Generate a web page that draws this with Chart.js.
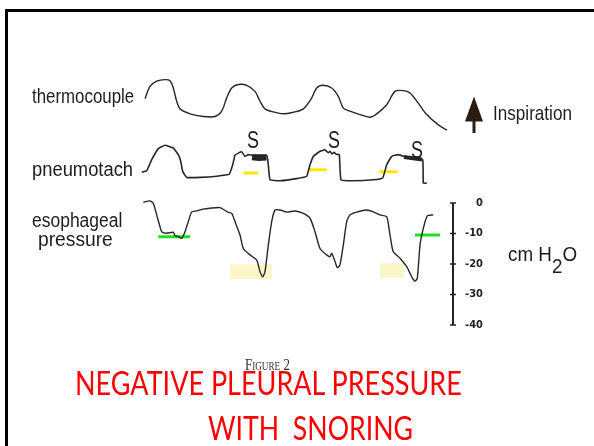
<!DOCTYPE html>
<html>
<head>
<meta charset="utf-8">
<title>Negative pleural pressure with snoring</title>
<script src="https://cdn.jsdelivr.net/npm/chart.js@4.4.0/dist/chart.umd.min.js"></script>
<style>
  html, body { margin: 0; padding: 0; background: #fff; }
  #wrap { position: relative; width: 594px; height: 446px; overflow: hidden; background: #fff; }
  #chart { position: absolute; left: 0; top: 0; }
  .frame { position: absolute; left: 5px; top: 9px; width: 700px; height: 600px;
           border-left: 3px solid #000; border-top: 3px solid #000; box-sizing: border-box; }
  .lbl { position: absolute; white-space: pre; line-height: 1; transform-origin: 0 0;
         color: #1c1c1c; font-family: 'Liberation Sans', Arial, sans-serif; font-size: 20px; }
  .lbl .sub { position: relative; top: 12px; }
  .cap { color: #ff0000; font-family: Lato, 'Open Sans', sans-serif; font-size: 32px; }
  .fig { color: #333; font-family: 'Liberation Serif', 'DejaVu Serif', serif; font-size: 17px; font-variant: small-caps; }
</style>
</head>
<body>
<div id="wrap">
  <canvas id="chart" width="594" height="446"></canvas>
  <div class="frame"></div>

  <div class="lbl" data-x="32" data-base="103" data-w="102">thermocouple</div>
  <div class="lbl" data-x="32" data-base="176" data-w="101">pneumotach</div>
  <div class="lbl" data-x="32" data-base="226.5" data-w="90">esophageal</div>
  <div class="lbl" data-x="38" data-base="245.5" data-w="75">pressure</div>
  <div class="lbl" data-x="493" data-base="120" data-w="79" style="font-size:21px">Inspiration</div>
  <div class="lbl" data-x="508" data-base="260.5" data-w="69" style="font-size:21px">cm H<span class="sub">2</span>O</div>
  <div class="lbl fig" data-x="245" data-base="370" data-w="45">Figure 2</div>
  <div class="lbl cap" data-x="75" data-base="395" data-w="387">NEGATIVE PLEURAL PRESSURE</div>
  <div class="lbl cap" data-x="208" data-base="440" data-w="205">WITH  SNORING</div>
</div>

<script>
// time axis in seconds, trace amplitudes in arbitrary units, pressure in cm H2O
const THERMO_T = [0.5, 1.0, 1.67, 2.5, 3.0, 3.33, 3.67, 4.0, 5.0, 6.33, 7.5, 8.17, 8.67, 9.17, 9.83,
  10.67, 11.5, 12.0, 12.5, 13.33, 14.33, 15.33, 16.33, 17.17, 17.67, 18.33, 19.17, 19.83, 20.33, 21.0,
  22.0, 23.0, 23.67, 24.67, 25.5, 26.33, 27.0, 27.83, 28.67, 29.83, 30.7];
const THERMO_V = [5.1, 8.3, 9.7, 10.1, 9.8, 7.9, 4.4, 2.4, 1.1, 0.4, 0.4, 1.8, 5.3, 7.9, 8.8,
  8.6, 7.0, 4.4, 2.4, 1.6, 1.1, 1.5, 2.4, 5.3, 7.9, 8.6, 7.9, 5.7, 2.6, 1.8,
  0.9, 0.2, 1.1, 3.5, 7.0, 7.2, 6.6, 3.9, 0.9, -1.8, -3.2];

const PNEUMO_T = [0.17, 0.67, 1.17, 1.83, 2.5, 3.33, 3.83, 4.07, 4.27, 4.67, 6.0, 7.67, 8.93, 9.27, 9.5,
  9.83, 10.17, 10.5, 10.83, 11.17, 12.67, 12.83, 13.0, 14.0, 15.67, 16.67, 17.0, 17.33, 18.0, 18.5,
  18.83, 19.0, 19.2, 19.4, 19.6, 19.93, 20.1, 21.33, 23.33, 24.27, 24.67, 25.17, 25.83, 26.67, 27.4,
  28.27, 28.33, 28.67];
const PNEUMO_V = [1.9, 2.4, 6.1, 9.8, 10.9, 10.0, 7.8, 5.6, 2.2, 0.2, 0.2, 0.6, 1.3, 4.4, 7.6,
  8.3, 8.7, 7.2, 7.8, 7.6, 7.6, 4.4, -0.6, -0.9, -0.2, 0.6, 4.4, 7.2, 8.9, 9.4,
  8.4, 8.9, 8.0, 8.6, 7.9, 7.8, -0.6, -0.9, -0.6, 0.0, 4.4, 7.2, 7.8, 6.9, 6.5,
  6.1, -1.7, -1.7];

// snoring bursts drawn as heavy strokes over the pneumotach
const SNORE1_T = [11.2, 11.9, 12.65];
const SNORE1_V = [6.9, 6.7, 6.8];
const SNORE3_T = [26.4, 27.3, 28.2];
const SNORE3_V = [7.0, 6.6, 6.2];
const SNORE_LABEL_T = [11.3, 19.4, 27.7];
const SNORE_LABEL_V = [12.8, 12.9, 9.6];

const PRESS_T = [0.33, 1.0, 1.33, 1.67, 2.0, 2.17, 2.67, 3.33, 3.5, 3.83, 4.17, 4.5, 4.83, 5.17, 5.67,
  6.33, 7.0, 8.0, 8.73, 9.17, 9.5, 10.0, 10.33, 11.0, 11.67, 12.0, 12.27, 12.5, 12.83, 13.17,
  13.5, 14.0, 14.67, 15.5, 16.33, 17.0, 17.5, 18.0, 18.67, 19.0, 19.17, 19.5, 19.73, 20.0, 20.33,
  20.67, 21.0, 21.67, 22.67, 23.33, 24.0, 24.67, 25.0, 25.33, 26.0, 26.67, 27.17, 27.5, 27.73, 28.0,
  28.33, 28.73, 29.33];
const PRESS_V = [0.2, 0.7, -0.1, -3.9, -7.8, -9.4, -9.9, -9.6, -10.7, -11.0, -11.6, -9.4, -6.1, -2.9, -2.6,
  -2.0, -1.7, -1.5, -2.9, -3.4, -6.1, -10.5, -14.9, -17.0, -18.7, -22.5, -24.2, -22.5, -13.8, -6.1,
  -2.3, -2.3, -3.0, -2.6, -3.4, -5.0, -9.4, -14.9, -17.0, -17.6, -16.5, -19.2, -21.2, -20.3, -13.8,
  -6.1, -3.9, -3.0, -2.3, -2.9, -3.9, -4.5, -10.5, -16.0, -18.1, -20.9, -24.2, -25.6, -24.7, -13.8,
  -8.3, -4.2, -3.9];
const PRESS_TICKS = [0, -10, -20, -30, -40];

// reference markers
const YELLOW_T = [[10.33, 11.83], [16.83, 18.67], [23.93, 25.77]];
const YELLOW_V = [1.67, 2.77, 2.1];
const GREEN_T = [[1.83, 5.0], [27.5, 30.0]];
const GREEN_V = [-11.05, -10.5];
const HIGHLIGHT_T = [[9.0, 13.23], [24.0, 26.4]];
const HIGHLIGHT_V = [[-20.1, -24.9], [-19.8, -24.5]];

const xy = (ts, vs) => ts.map((t, i) => ({ x: t, y: vs[i] }));
const spans = (ranges, vs) => ranges.flatMap(([t0, t1], i) =>
  [{ x: t0, y: vs[i] }, { x: t1, y: vs[i] }, { x: t1, y: null }]);

const trace = (data, axis, width, tension) => ({
  data, yAxisID: axis, borderColor: '#262626', borderWidth: width,
  pointRadius: 0, tension, fill: false
});

// scale bar, highlight boxes, snoring labels and the inspiration arrow
const figureMarks = {
  id: 'figureMarks',
  beforeDatasetsDraw(chart) {
    const { ctx, scales: { x, yE } } = chart;
    ctx.save();
    ctx.fillStyle = 'rgb(251, 245, 200)';
    HIGHLIGHT_T.forEach(([t0, t1], i) => {
      const x0 = x.getPixelForValue(t0), x1 = x.getPixelForValue(t1);
      const y0 = yE.getPixelForValue(HIGHLIGHT_V[i][0]), y1 = yE.getPixelForValue(HIGHLIGHT_V[i][1]);
      ctx.fillRect(x0, y0, x1 - x0, y1 - y0);
    });
    ctx.restore();
  },
  afterDatasetsDraw(chart) {
    const { ctx, scales: { x, yP, yE } } = chart;
    ctx.save();

    // cm H2O bar with crossing ticks
    const ax = yE.left;
    ctx.strokeStyle = '#222';
    ctx.lineWidth = 2;
    ctx.beginPath();
    ctx.moveTo(ax, yE.getPixelForValue(0));
    ctx.lineTo(ax, yE.getPixelForValue(-40));
    ctx.stroke();
    ctx.lineWidth = 1.5;
    PRESS_TICKS.forEach(v => {
      const py = yE.getPixelForValue(v);
      ctx.beginPath();
      ctx.moveTo(ax - 3, py);
      ctx.lineTo(ax + 3, py);
      ctx.stroke();
    });

    // "S" over each snoring burst
    ctx.fillStyle = '#1c1c1c';
    ctx.font = "23px 'Liberation Sans', Arial, sans-serif";
    ctx.textAlign = 'center';
    ctx.textBaseline = 'alphabetic';
    const capH = ctx.measureText('S').actualBoundingBoxAscent;
    SNORE_LABEL_T.forEach((t, i) => {
      ctx.save();
      ctx.translate(x.getPixelForValue(t), yP.getPixelForValue(SNORE_LABEL_V[i]));
      ctx.scale(0.78, 1);
      ctx.fillText('S', 0, capH / 2);
      ctx.restore();
    });

    // inspiration arrow
    ctx.fillStyle = '#2b1d12';
    ctx.beginPath();
    ctx.moveTo(474, 96.5);
    ctx.lineTo(483, 121.5);
    ctx.lineTo(465, 121.5);
    ctx.closePath();
    ctx.fill();
    ctx.fillRect(472.5, 121, 3, 12);

    ctx.restore();
  }
};

new Chart(document.getElementById('chart'), {
  type: 'line',
  data: {
    datasets: [
      trace(xy(THERMO_T, THERMO_V), 'yT', 1.4, 0.3),
      trace(xy(PNEUMO_T, PNEUMO_V), 'yP', 1.6, 0.1),
      trace(xy(SNORE1_T, SNORE1_V), 'yP', 6, 0),
      trace(xy(SNORE3_T, SNORE3_V), 'yP', 4, 0),
      trace(xy(PRESS_T, PRESS_V), 'yE', 1.4, 0.2),
      { data: spans(YELLOW_T, YELLOW_V), yAxisID: 'yP', borderColor: '#ffe800', borderWidth: 3, pointRadius: 0 },
      { data: spans(GREEN_T, GREEN_V), yAxisID: 'yE', borderColor: '#20e020', borderWidth: 3, pointRadius: 0 }
    ]
  },
  options: {
    responsive: false,
    animation: false,
    layout: { padding: { left: 140, top: 70, right: 111, bottom: 106 } },
    plugins: { legend: { display: false }, tooltip: { enabled: false } },
    scales: {
      x: { type: 'linear', display: false, min: 0, max: 31.3 },
      yT: { display: false, min: -58.42, max: 12.63 },
      yP: { display: false, min: -54, max: 36 },
      yE: {
        position: 'right',
        min: -44.92,
        max: 43.61,
        afterFit: s => { s.width = 30; },
        afterBuildTicks: s => { s.ticks = PRESS_TICKS.map(v => ({ value: v })); },
        grid: { display: false, drawTicks: false },
        border: { display: false },
        ticks: {
          padding: 16,
          crossAlign: 'far',
          color: '#222',
          font: { family: "'Liberation Sans Narrow', 'DejaVu Sans Condensed', 'Liberation Sans', sans-serif", size: 11, weight: 'bold' }
        }
      }
    }
  },
  plugins: [figureMarks]
});

// put each label on its baseline and squeeze it to its width
function placeLabels() {
  const ctx = document.createElement('canvas').getContext('2d');
  document.querySelectorAll('.lbl').forEach(el => {
    const cs = getComputedStyle(el);
    const size = parseFloat(cs.fontSize);
    ctx.font = `${cs.fontStyle} ${cs.fontWeight} ${size}px ${cs.fontFamily}`;
    const m = ctx.measureText('Hg');
    const asc = m.fontBoundingBoxAscent, desc = m.fontBoundingBoxDescent;
    const baseOffset = (size - (asc + desc)) / 2 + asc;
    el.style.left = el.dataset.x + 'px';
    el.style.top = (el.dataset.base - baseOffset) + 'px';
    el.style.transform = `scaleX(${el.dataset.w / el.offsetWidth})`;
  });
}
placeLabels();
</script>
</body>
</html>
